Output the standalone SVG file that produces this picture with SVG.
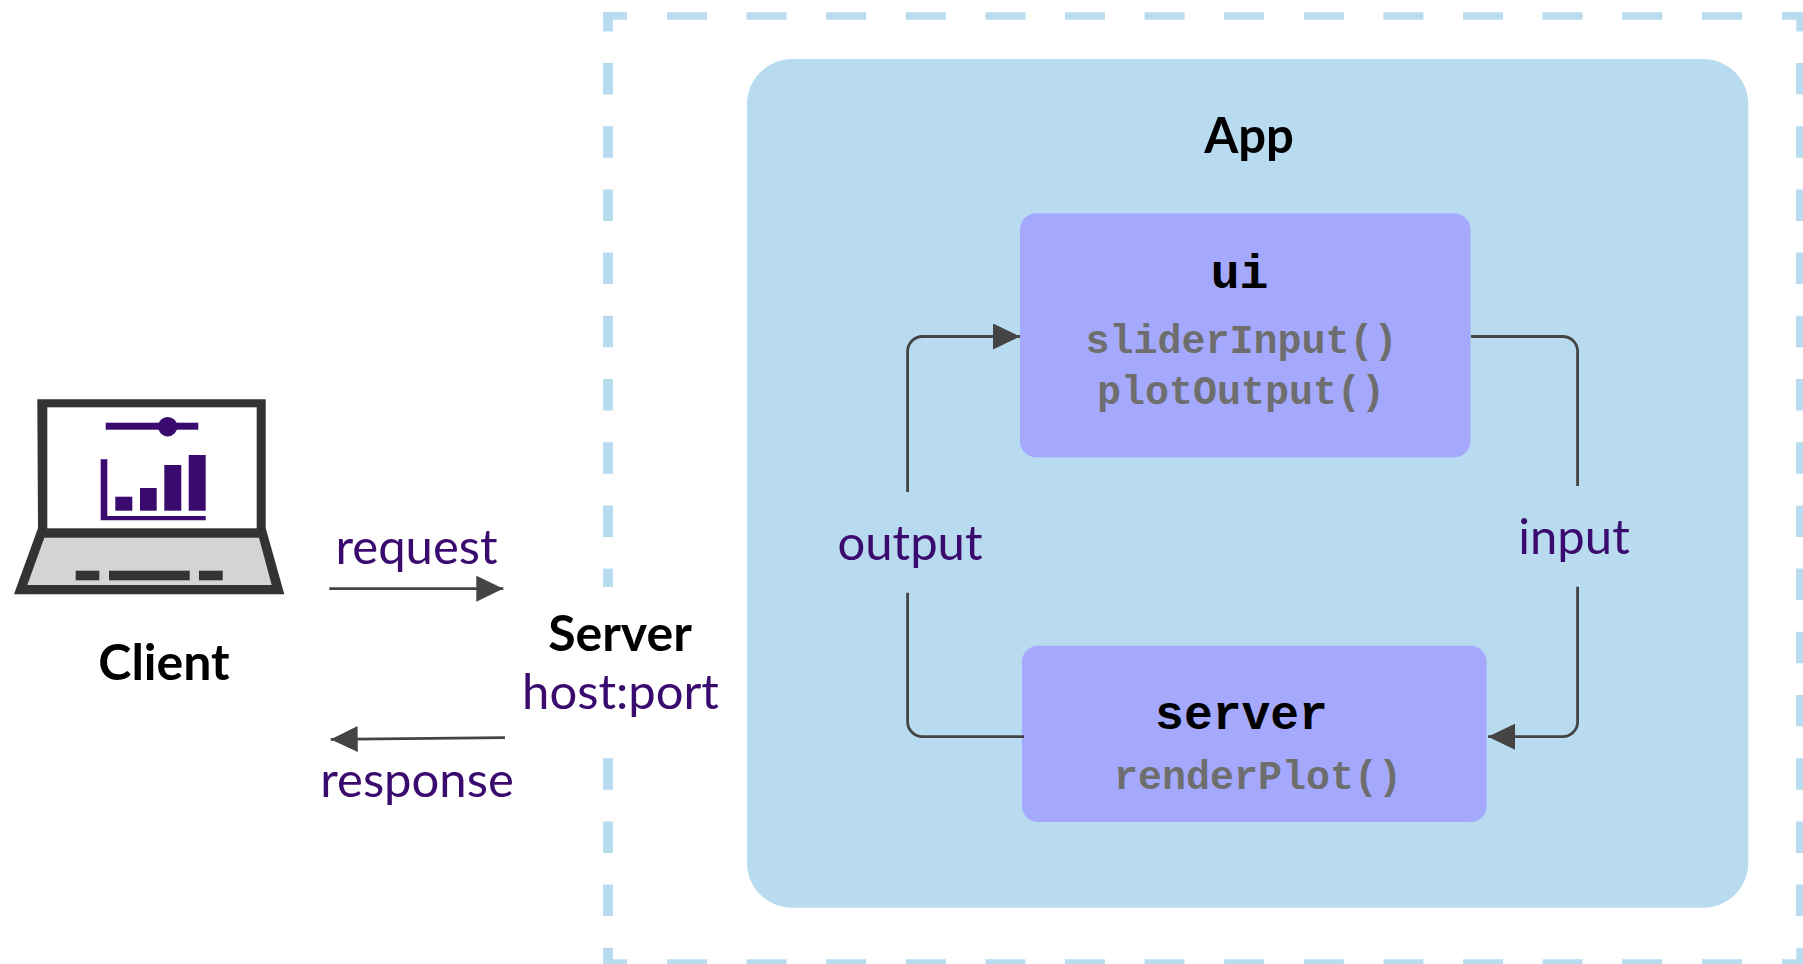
<svg xmlns="http://www.w3.org/2000/svg" width="1803" height="964" viewBox="0 0 1803 964">
<style>
.dash{fill:none;stroke:#b8dbf0}
.h{stroke-width:7.5;stroke-dasharray:40 39.6}
.v{stroke-width:10;stroke-dasharray:31.5 31.7}
.corner{fill:#b8dbf0}
.title{font-family:Lato,"Liberation Sans",sans-serif;font-weight:700;font-size:50px;fill:#000;text-anchor:middle}
.label{font-family:Lato,"Liberation Sans",sans-serif;font-size:49px;fill:#3a0a6e;text-anchor:middle}
.code{font-family:"Liberation Mono",monospace;font-weight:700;text-anchor:middle}
.name{font-size:48px;fill:#000}
.fn{font-size:40px;fill:#6e6e6e}
.box{fill:#a5a9fd}
.wire{fill:none;stroke:#444;stroke-width:2.8}
.dark{fill:#333}
.purple{fill:#3a0a6e}
</style>
<defs>
<marker id="arrow" markerUnits="userSpaceOnUse" markerWidth="27" markerHeight="26" refX="27" refY="13" orient="auto">
<path d="M0 0L27 13L0 26Z" fill="#444"/>
</marker>
</defs>
<rect width="1803" height="964" fill="#fff"/>
<g id="boundary">
<path class="corner" d="M603 12H627V19.7H613V31.5H603Z"/>
<path class="corner" d="M1782 12H1806V31.5H1796.3V19.7H1782Z"/>
<path class="corner" d="M603 947.8H613V959.3H627V967H603Z"/>
<path class="corner" d="M1796.3 947.8H1806V967H1782V959.3H1796.3Z"/>
<line class="dash h" x1="667" y1="16" x2="1663" y2="16"/>
<line class="dash h" x1="1702" y1="16" x2="1742" y2="16"/>
<line class="dash h" x1="667" y1="963" x2="1663" y2="963"/>
<line class="dash h" x1="1702" y1="963" x2="1742" y2="963"/>
<line class="dash v" x1="608" y1="63" x2="608" y2="537"/>
<line class="dash v" x1="608" y1="568.6" x2="608" y2="587"/>
<line class="dash v" x1="608" y1="758.2" x2="608" y2="916"/>
<line class="dash v" x1="1801" y1="63" x2="1801" y2="916"/>
</g>
<g id="app">
<rect x="747" y="59" width="1001.3" height="848.7" rx="45" fill="#b8dbf0"/>
<text class="title" x="1249" y="153" style="font-size:49px">App</text>
<rect x="809" y="488" width="204" height="107" fill="#b8daef"/>
</g>
<g id="client">
<path class="dark" d="M37.3 399.3H265.7V528L284.3 594.3H14L38 528Z"/>
<rect x="47.3" y="407.3" width="209.4" height="121" fill="#fff"/>
<path d="M44.3 537.7H259L271.7 585H27.3Z" fill="#d4d4d4"/>
<rect class="dark" x="75.7" y="570.7" width="23.6" height="9.6"/>
<rect class="dark" x="109" y="570.7" width="80.7" height="9.6"/>
<rect class="dark" x="199" y="570.7" width="23.7" height="9.6"/>
<rect class="purple" x="105.7" y="422.7" width="92.6" height="7"/>
<circle class="purple" cx="167.7" cy="426.7" r="9.7"/>
<path class="purple" d="M100.7 459.3H107.3V516H205.7V520.3H100.7Z"/>
<rect class="purple" x="115.3" y="496.7" width="17" height="14"/>
<rect class="purple" x="140" y="488" width="16.7" height="22.7"/>
<rect class="purple" x="164.3" y="465" width="17" height="45.7"/>
<rect class="purple" x="188.7" y="455" width="17" height="55.7"/>
<text class="title" x="164" y="680">Client</text>
</g>
<g id="server-host">
<text class="title" x="620" y="651">Server</text>
<text class="label" x="620.5" y="709">host:port</text>
</g>
<g id="ui">
<rect class="box" x="1020" y="213.3" width="450.5" height="244" rx="16"/>
<text class="code name" x="1239.5" y="288">ui</text>
<text class="code fn" x="1241.5" y="352.5">sliderInput()</text>
<text class="code fn" x="1241" y="403.5">plotOutput()</text>
</g>
<g id="server">
<rect class="box" x="1022" y="645.7" width="464.6" height="176.3" rx="16"/>
<text class="code name" x="1241.5" y="728.5">server</text>
<text class="code fn" x="1258" y="789">renderPlot()</text>
</g>
<g id="connectors">
<path class="wire" marker-end="url(#arrow)" d="M329.3 588.7H503.3"/>
<path class="wire" marker-end="url(#arrow)" d="M505 737.7L330.7 739.3"/>
<path class="wire" marker-end="url(#arrow)" d="M907.6 492V352A15 15 0 0 1 922.6 336.5H1020"/>
<path class="wire" d="M907.6 592.7V721A15 15 0 0 0 922.6 736.7H1024"/>
<path class="wire" d="M1471 336.5H1562.6A15 15 0 0 1 1577.6 352V486"/>
<path class="wire" marker-end="url(#arrow)" d="M1577.6 586.7V721A15 15 0 0 1 1562.6 736.7H1488"/>
<text class="label" x="416.5" y="564">request</text>
<text class="label" x="417" y="797">response</text>
<text class="label" x="910" y="559.5">output</text>
<text class="label" x="1574" y="553.5">input</text>
</g>
</svg>
